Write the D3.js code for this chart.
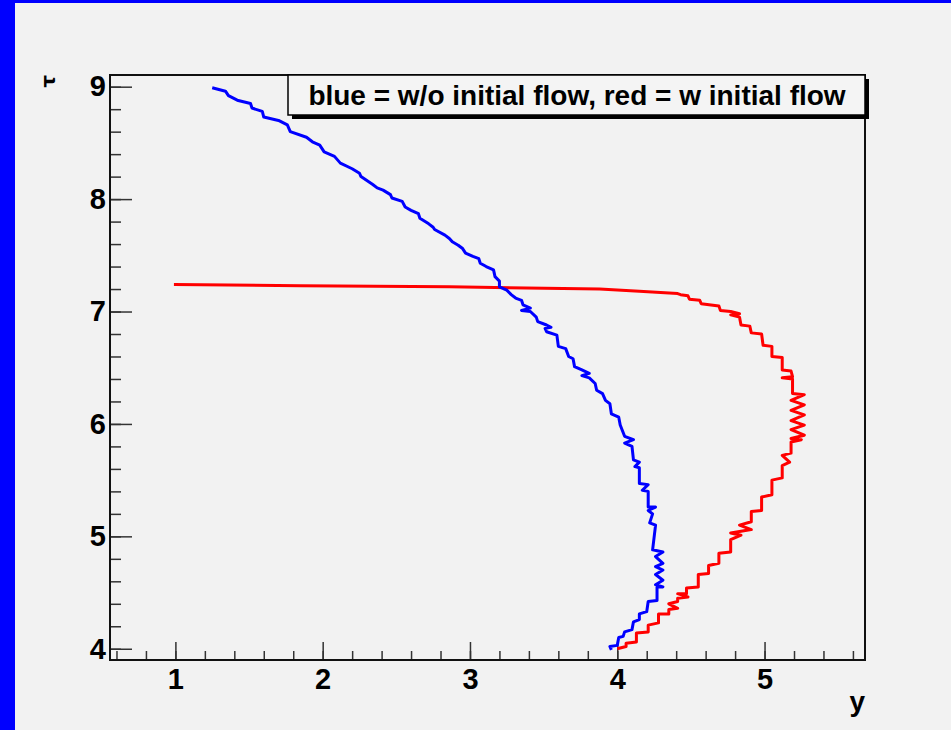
<!DOCTYPE html>
<html>
<head>
<meta charset="utf-8">
<script src="https://cdn.jsdelivr.net/npm/d3@7"></script>
<style>
  html, body { margin: 0; padding: 0; background: #f2f2f2; }
  svg text { font-family: "Liberation Sans", Arial, sans-serif; font-weight: bold; }
</style>
</head>
<body>
<svg id="chart" width="951" height="730"></svg>
<script>
// blue = w/o initial flow
var blueY = [1.25,1.34,1.36,1.42,1.51,1.52,1.59,1.60,1.70,1.76,1.78,1.89,1.93,1.98,2.01,2.08,2.12,2.20,2.25,2.26,
  2.34,2.37,2.41,2.46,2.47,2.54,2.56,2.60,2.65,2.66,2.72,2.75,2.76,2.83,2.86,2.88,2.92,2.95,2.97,3.02,
  3.06,3.07,3.11,3.16,3.17,3.20,3.20,3.25,3.28,3.31,3.35,3.36,3.41,3.35,3.41,3.45,3.46,3.52,3.55,3.51,
  3.52,3.59,3.60,3.65,3.67,3.70,3.71,3.76,3.81,3.76,3.81,3.85,3.86,3.90,3.92,3.95,3.96,4.01,4.02,4.05,
  4.11,4.05,4.10,4.11,4.15,4.12,4.15,4.15,4.21,4.17,4.21,4.21,4.26,4.21,4.24,4.22,4.26,4.24,4.31,4.26,
  4.31,4.26,4.31,4.26,4.31,4.26,4.31,4.27,4.27,4.21,4.20,4.15,4.15,4.11,4.10,4.05,4.04,4.01,4.00,3.95,3.96];
var blueTau = [8.99,8.96,8.92,8.88,8.85,8.81,8.78,8.73,8.70,8.66,8.60,8.55,8.51,8.48,8.42,8.38,8.32,8.27,8.23,8.20,
  8.13,8.10,8.08,8.04,8.01,7.98,7.93,7.90,7.87,7.83,7.78,7.75,7.73,7.68,7.65,7.62,7.59,7.56,7.52,7.49,
  7.47,7.43,7.40,7.37,7.31,7.27,7.22,7.19,7.15,7.12,7.10,7.06,7.03,7.01,7.00,6.95,6.91,6.88,6.86,6.85,
  6.82,6.79,6.69,6.67,6.60,6.58,6.51,6.48,6.45,6.43,6.41,6.36,6.30,6.27,6.21,6.18,6.09,6.06,5.99,5.89,
  5.86,5.83,5.80,5.68,5.66,5.62,5.61,5.47,5.46,5.41,5.40,5.26,5.26,5.23,5.20,5.12,5.10,4.88,4.86,4.82,
  4.76,4.73,4.70,4.66,4.61,4.57,4.55,4.55,4.43,4.42,4.33,4.31,4.26,4.24,4.17,4.15,4.11,4.10,4.03,4.02,3.99];

// red = w initial flow
var redY = [0.99,1.85,2.86,3.88,4.15,4.41,4.43,4.48,4.49,4.56,4.57,4.69,4.70,4.77,4.83,4.77,4.83,4.84,4.90,4.91,
  4.98,4.99,5.05,5.05,5.12,5.12,5.18,5.19,5.12,5.19,5.19,5.27,5.18,5.27,5.18,5.27,5.18,5.27,5.18,5.27,
  5.18,5.25,5.18,5.18,5.12,5.17,5.12,5.12,5.05,5.05,4.98,4.98,4.91,4.91,4.83,4.91,4.77,4.84,4.77,4.77,
  4.69,4.69,4.62,4.62,4.55,4.55,4.47,4.47,4.41,4.48,4.41,4.41,4.35,4.41,4.35,4.35,4.28,4.28,4.21,4.21,
  4.13,4.13,4.06,4.06,4.00];
var redTau = [7.24,7.23,7.22,7.20,7.18,7.16,7.15,7.14,7.11,7.10,7.07,7.05,7.01,7.00,6.98,6.97,6.95,6.88,6.87,6.81,
  6.80,6.70,6.69,6.60,6.59,6.48,6.47,6.42,6.41,6.40,6.27,6.26,6.21,6.17,6.12,6.08,6.03,5.99,5.95,5.90,
  5.87,5.86,5.84,5.74,5.72,5.66,5.63,5.52,5.50,5.37,5.35,5.23,5.22,5.13,5.10,5.06,5.03,5.01,4.97,4.86,
  4.85,4.76,4.74,4.67,4.66,4.55,4.54,4.49,4.49,4.46,4.45,4.42,4.40,4.36,4.35,4.31,4.31,4.23,4.21,4.15,
  4.14,4.06,4.05,4.02,4.00];

var xMajor = [1, 2, 3, 4, 5];
var yMajor = [4, 5, 6, 7, 8, 9];
var legendText = "blue = w/o initial flow, red = w initial flow";

var svg = d3.select("#chart");

// blue page border (left and top)
svg.append("rect").attr("x", 0).attr("y", 0).attr("width", 15).attr("height", 730).attr("fill", "#0000ff");
svg.append("rect").attr("x", 0).attr("y", 0).attr("width", 951).attr("height", 3).attr("fill", "#0000ff");

var fLeft = 110, fRight = 865, fTop = 75, fBottom = 660;

var x = d3.scaleLinear().domain([0.556, 5.682]).range([fLeft, fRight]);
var y = d3.scaleLinear().domain([3.9, 9.104]).range([fBottom, fTop]);

var xMinor = d3.range(0.6, 5.65, 0.2).map(function(v){ return Math.round(v*10)/10; });
var yMinor = d3.range(4.0, 9.05, 0.2).map(function(v){ return Math.round(v*10)/10; });

// minor ticks
svg.append("g").attr("transform", "translate(0," + fBottom + ")")
  .call(d3.axisBottom(x).tickValues(xMinor).tickFormat("").tickSizeInner(-9).tickSizeOuter(0))
  .call(function(g){ g.select(".domain").remove(); });
svg.append("g").attr("transform", "translate(" + fLeft + ",0)")
  .call(d3.axisLeft(y).tickValues(yMinor).tickFormat("").tickSizeInner(-11).tickSizeOuter(0))
  .call(function(g){ g.select(".domain").remove(); });

// major ticks + labels
var xAxis = svg.append("g").attr("transform", "translate(0," + fBottom + ")")
  .call(d3.axisBottom(x).tickValues(xMajor).tickFormat(d3.format("d")).tickSizeInner(-18).tickSizeOuter(0).tickPadding(8));
xAxis.select(".domain").remove();

var yAxis = svg.append("g").attr("transform", "translate(" + fLeft + ",0)")
  .call(d3.axisLeft(y).tickValues(yMajor).tickFormat(d3.format("d")).tickSizeInner(-22).tickSizeOuter(0).tickPadding(4));
yAxis.select(".domain").remove();

svg.selectAll(".tick line").attr("stroke", "#333").attr("stroke-width", 1.5);
svg.selectAll(".tick text").attr("font-size", 29).attr("fill", "#000")
  .style("font-family", "'Liberation Sans', Arial, sans-serif").style("font-weight", "bold");

// frame
svg.append("rect").attr("x", fLeft).attr("y", fTop).attr("width", fRight - fLeft).attr("height", fBottom - fTop)
  .attr("fill", "none").attr("stroke", "#111").attr("stroke-width", 2);

// curves
var line = d3.line()
  .x(function(d){ return x(d[0]); })
  .y(function(d){ return y(d[1]); });

var blue = blueY.map(function(v, i){ return [v, blueTau[i]]; });
var red = redY.map(function(v, i){ return [v, redTau[i]]; });

svg.append("path").datum(red).attr("d", line)
  .attr("fill", "none").attr("stroke", "#ff0000").attr("stroke-width", 3).attr("stroke-linejoin", "round");
svg.append("path").datum(blue).attr("d", line)
  .attr("fill", "none").attr("stroke", "#0000ff").attr("stroke-width", 3).attr("stroke-linejoin", "round");

// legend box with shadow
svg.append("rect").attr("x", 292).attr("y", 79).attr("width", 577).attr("height", 40).attr("fill", "#000");
svg.append("rect").attr("x", 288).attr("y", 75).attr("width", 577).attr("height", 40)
  .attr("fill", "#f4f4f4").attr("stroke", "#000").attr("stroke-width", 1.5);
svg.append("text").attr("x", 577).attr("y", 105).attr("text-anchor", "middle")
  .attr("font-size", 28).text(legendText);

// axis titles
svg.append("text").attr("x", 865).attr("y", 711).attr("text-anchor", "end")
  .attr("font-size", 28).text("y");
svg.append("text").attr("transform", "translate(55,75) rotate(-90)").attr("text-anchor", "end")
  .style("font-family", "'DejaVu Sans', sans-serif")
  .attr("font-size", 20).text("τ");
</script>
</body>
</html>
